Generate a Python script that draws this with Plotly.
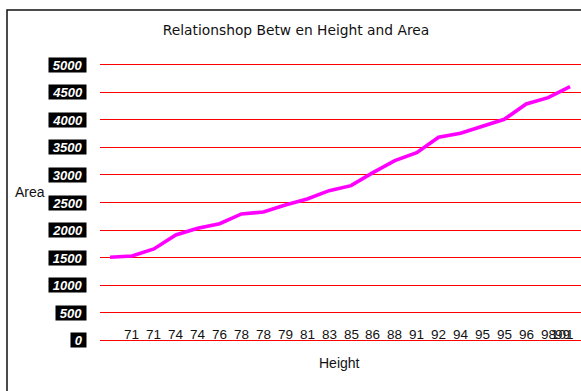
import plotly.graph_objects as go

# Area recorded for each successive measurement, with its height label
area = [1506, 1530, 1657, 1911, 2032, 2116, 2292, 2328, 2455, 2564, 2715,
        2806, 3041, 3259, 3404, 3683, 3756, 3889, 4010, 4288, 4402, 4602]
height_labels = ["71", "71", "74", "74", "76", "78", "78", "79", "81", "83",
                 "85", "86", "88", "91", "92", "94", "95", "95", "96", "98"]
last_labels = ["99", "101"]
y_ticks = [0, 500, 1000, 1500, 2000, 2500, 3000, 3500, 4000, 4500, 5000]

FONT = "Liberation Sans, Arial, sans-serif"
x_idx = list(range(len(area)))

fig = go.Figure()
fig.add_trace(go.Scatter(
    x=x_idx, y=area, mode="lines",
    line=dict(color="#FF00FF", width=3.6),
    hoverinfo="skip", showlegend=False,
))

fig.update_layout(
    width=581, height=391,
    margin=dict(l=100, r=0, t=60, b=46),
    paper_bgcolor="white", plot_bgcolor="white",
    font=dict(family=FONT, size=13, color="#111"),
    title=dict(text="Relationshop Betw en Height and Area", x=296 / 581, xanchor="center",
               y=1 - 30 / 391, yanchor="middle",
               font=dict(family="DejaVu Sans, sans-serif", size=13.8, color="#111")),
    xaxis=dict(range=[-0.46, 21.5], showticklabels=False, ticks="", showgrid=False,
               zeroline=False, showline=False),
    yaxis=dict(range=[-85, 5085], tickvals=y_ticks, showticklabels=False, ticks="",
               showgrid=True, gridcolor="#FF0000", gridwidth=1, zeroline=True,
               zerolinecolor="#FF0000", zerolinewidth=1, showline=False),
)

# category labels resting on the baseline, one slot to the right of each point
label_pos = [i + 1 for i in range(len(height_labels))] + [len(area) - 1.33] * len(last_labels)
for pos, txt in zip(label_pos, height_labels + last_labels):
    fig.add_annotation(x=pos, xref="x", y=0, yref="y", text=txt, showarrow=False,
                       xanchor="center", yanchor="bottom", yshift=-4,
                       font=dict(family=FONT, size=13.5, color="#111"))

# value labels on black plates beside each gridline
for v in y_ticks:
    n = len(str(v))
    fig.add_annotation(
        x=-13 / 481, xref="paper", y=v, yref="y", xanchor="right", yanchor="middle",
        text=f"<b><i>{v}</i></b>", showarrow=False, bgcolor="black",
        width=7.3 * n + 6, height=12, align="center", borderpad=1,
        font=dict(family=FONT, size=13, color="white"),
    )

fig.add_annotation(x=(30 - 100) / 481, xref="paper", y=(345 - 192) / 285, yref="paper",
                   text="Area", showarrow=False, xanchor="center", yanchor="middle",
                   font=dict(family=FONT, size=14, color="#111"))
fig.add_annotation(x=(339 - 100) / 481, xref="paper", y=(345 - 363) / 285, yref="paper",
                   text="Height", showarrow=False, xanchor="center", yanchor="middle",
                   font=dict(family=FONT, size=14, color="#111"))

# chart frame
fig.add_shape(type="rect", xref="paper", yref="paper",
              x0=(7 - 100) / 481, x1=1.1, y0=-0.4, y1=(345 - 10) / 285,
              line=dict(color="#111", width=1.5), layer="below")

fig.write_html("out.html")
